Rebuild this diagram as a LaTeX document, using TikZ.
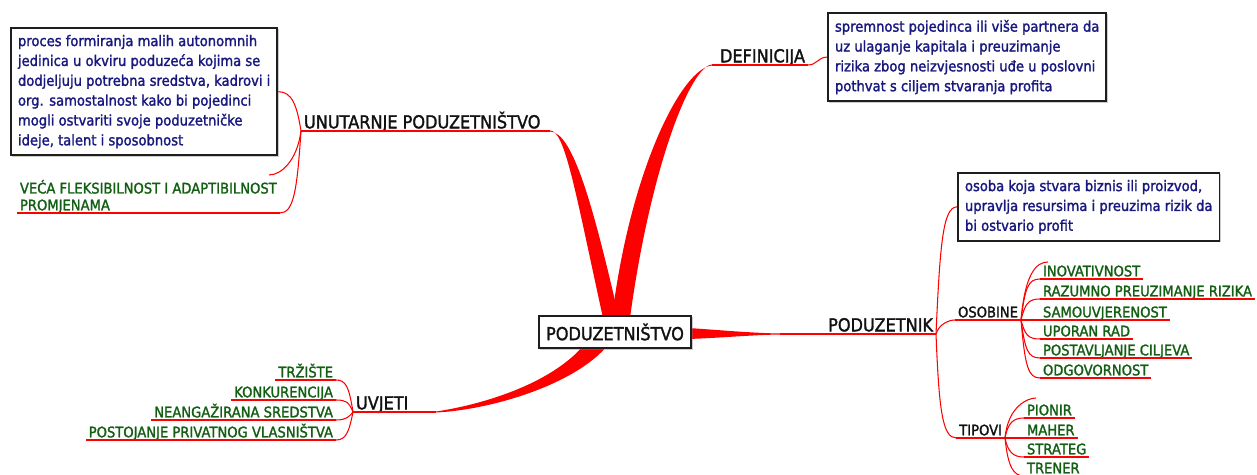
\documentclass[tikz,border=0pt]{standalone}
\usepackage{fontspec}
\setmainfont{DejaVu Sans}[FakeStretch=0.9, FakeBold=1.6]
\usepackage{xcolor}
\usepackage{tikz}
\usetikzlibrary{shadows}
\definecolor{Branch}{HTML}{FF0000}
\definecolor{Ink}{HTML}{111111}
\definecolor{Frame}{HTML}{1E1E1E}
\definecolor{NoteBlue}{HTML}{18187F}
\definecolor{LeafGreen}{HTML}{125E12}
\tikzset{
  branch/.style={fill=Branch, draw=none},
  twig/.style={draw=Branch, line width=0.6pt},
  uline/.style={draw=Branch, line width=0.6pt},
  topic/.style={text=Ink, font=\fontsize{10.2}{12}\selectfont, inner xsep=1.5pt, inner ysep=0pt, text depth=1.3pt},
  leaf/.style={text=LeafGreen, font=\fontsize{8.3}{9.6}\selectfont, inner xsep=1.5pt, inner ysep=0pt, text depth=1.3pt, align=left},
  subtopic/.style={leaf, text=Ink},
  note/.style={draw=Frame, line width=1.1pt, fill=white, text=NoteBlue, font=\fontsize{8.3}{11.3}\selectfont, align=left, inner xsep=4pt, inner ysep=4pt, drop shadow={shadow xshift=0.8pt, shadow yshift=-0.8pt, opacity=0.4}},
  hub/.style={draw=Frame, line width=1.2pt, fill=white, text=Ink, font=\fontsize{10.2}{12}\selectfont, minimum width=87pt, minimum height=18.7pt, inner xsep=4pt, drop shadow={shadow xshift=0.9pt, shadow yshift=-0.9pt, opacity=0.4}},
}

\begin{document}
\begin{tikzpicture}[x=0.02cm, y=-0.02cm]
  \useasboundingbox (0,0) rectangle (1257,475);

  % Thick arms out of the centre
  \fill[branch] (550,130.5) .. controls (565,130.5) and (575,190) .. (603,318)
    -- (619,318) .. controls (592,200) and (572,132) .. (550,131.5) -- cycle;
  \fill[branch] (712,64.5) .. controls (690,66) and (650,170) .. (630,318)
    -- (612,318) .. controls (630,170) and (682,68) .. (712,65.5) -- cycle;
  \fill[branch] (436,411.5) .. controls (480,405) and (550,385) .. (584,345)
    -- (608,345) .. controls (575,385) and (490,410) .. (436,412.5) -- cycle;
  \fill[branch] (688,328) .. controls (720,330) and (750,333) .. (780,333.5)
    -- (780,334.5) .. controls (750,335) and (720,338) .. (688,339) -- cycle;

  % Centre
  \node[hub] (core) at (615,332) {PODUZETNIŠTVO};

  % Unutarnje poduzetnistvo
  \node[topic, anchor=south west] (unut) at (301,131) {UNUTARNJE PODUZETNIŠTVO};
  \coordinate (unutTail) at (550,131);
  \draw[uline] (unut.south west) -- (unutTail);
  \node[note, anchor=north west] (unutNote) at (10,27) {proces formiranja malih autonomnih\\
    jedinica u okviru poduzeća kojima se\\
    dodjeljuju potrebna sredstva, kadrovi i\\
    org. samostalnost kako bi pojedinci\\
    mogli ostvariti svoje poduzetničke\\
    ideje, talent i sposobnost};
  \node[leaf, anchor=south west] (veca) at (17,213) {VEĆA FLEKSIBILNOST I ADAPTIBILNOST\\PROMJENAMA};
  \coordinate (vecaStub) at (269,175);
  \draw[uline] (veca.south west) -- (veca.south east);
  \draw[twig] (unut.south west) .. controls +(-4,-25) and +(14,0) .. (unutNote.east);
  \draw[twig] (unut.south west) .. controls +(-4,30) and +(12,0) .. (vecaStub);
  \draw[twig] (unut.south west) .. controls +(-4,60) and +(14,0) .. (veca.south east);

  % Definicija
  \node[topic, anchor=south east] (defin) at (808,65) {DEFINICIJA};
  \coordinate (definTail) at (712,65);
  \draw[uline] (definTail) -- (defin.south east);
  \node[note, anchor=north west] (definNote) at (827,12) {spremnost pojedinca ili više partnera da\\
    uz ulaganje kapitala i preuzimanje\\
    rizika zbog neizvjesnosti uđe u poslovni\\
    pothvat s ciljem stvaranja profita};
  \draw[twig] (defin.south east) .. controls +(9,0) and +(-9,0) .. (definNote.west);

  % Uvjeti
  \node[topic, anchor=south west] (uvjeti) at (353,412) {UVJETI};
  \coordinate (uvjetiTail) at (436,412);
  \draw[uline] (uvjeti.south west) -- (uvjetiTail);
  \node[leaf, anchor=south east] (trziste) at (336,380) {TRŽIŠTE};
  \node[leaf, anchor=south east] (konkur) at (336,400) {KONKURENCIJA};
  \node[leaf, anchor=south east] (sredstva) at (336,420) {NEANGAŽIRANA SREDSTVA};
  \node[leaf, anchor=south east] (vlasnistvo) at (336,440) {POSTOJANJE PRIVATNOG VLASNIŠTVA};
  \draw[uline] (trziste.south west) -- (trziste.south east);
  \draw[uline] (konkur.south west) -- (konkur.south east);
  \draw[uline] (sredstva.south west) -- (sredstva.south east);
  \draw[uline] (vlasnistvo.south west) -- (vlasnistvo.south east);
  \draw[twig] (uvjeti.south west) .. controls +(-4,-25) and +(10,0) .. (trziste.south east);
  \draw[twig] (uvjeti.south west) .. controls +(-4,-10) and +(10,0) .. (konkur.south east);
  \draw[twig] (uvjeti.south west) .. controls +(-4,5) and +(10,0) .. (sredstva.south east);
  \draw[twig] (uvjeti.south west) .. controls +(-4,20) and +(10,0) .. (vlasnistvo.south east);

  % Poduzetnik
  \coordinate (podzTail) at (780,334);
  \node[topic, anchor=south east] (podz) at (936,334) {PODUZETNIK};
  \draw[uline] (podzTail) -- (podz.south east);
  \node[note, anchor=north west] (podzNote) at (957,172) {osoba koja stvara biznis ili proizvod,\\
    upravlja resursima i preuzima rizik da\\
    bi ostvario profit};
  \draw[twig] (podz.south east) .. controls +(4,-90) and +(-14,0) .. (podzNote.west);

  \node[subtopic, anchor=south east] (osobine) at (1021,320) {OSOBINE};
  \draw[uline] (osobine.south west) -- (osobine.south east);
  \draw[twig] (podz.south east) .. controls +(3,-10) and +(-6,0) .. (osobine.south west);

  \node[subtopic, anchor=south east] (tipovi) at (1005,438) {TIPOVI};
  \draw[uline] (tipovi.south west) -- (tipovi.south east);
  \draw[twig] (podz.south east) .. controls +(3,75) and +(-14,0) .. (tipovi.south west);

  % Osobine
  \coordinate (osobStub) at (1048,262);
  \node[leaf, anchor=south west] (inov) at (1040,279) {INOVATIVNOST};
  \node[leaf, anchor=south west] (razum) at (1040,299) {RAZUMNO PREUZIMANJE RIZIKA};
  \node[leaf, anchor=south west] (samo) at (1040,320) {SAMOUVJERENOST};
  \node[leaf, anchor=south west] (uporan) at (1040,339) {UPORAN RAD};
  \node[leaf, anchor=south west] (ciljevi) at (1040,358) {POSTAVLJANJE CILJEVA};
  \node[leaf, anchor=south west] (odgov) at (1040,378) {ODGOVORNOST};
  \draw[uline] (inov.south west) -- (inov.south east);
  \draw[uline] (razum.south west) -- (razum.south east);
  \draw[uline] (samo.south west) -- (samo.south east);
  \draw[uline] (uporan.south west) -- (uporan.south east);
  \draw[uline] (ciljevi.south west) -- (ciljevi.south east);
  \draw[uline] (odgov.south west) -- (odgov.south east);
  \draw[twig] (osobine.south east) .. controls +(4,-46) and +(-12,0) .. (osobStub);
  \draw[twig] (osobine.south east) .. controls +(4,-32) and +(-12,0) .. (inov.south west);
  \draw[twig] (osobine.south east) .. controls +(4,-16) and +(-12,0) .. (razum.south west);
  \draw[twig] (osobine.south east) -- (samo.south west);
  \draw[twig] (osobine.south east) .. controls +(4,15) and +(-12,0) .. (uporan.south west);
  \draw[twig] (osobine.south east) .. controls +(4,30) and +(-12,0) .. (ciljevi.south west);
  \draw[twig] (osobine.south east) .. controls +(4,46) and +(-12,0) .. (odgov.south west);

  % Tipovi
  \coordinate (tipStub) at (1036,398);
  \node[leaf, anchor=south west] (pionir) at (1024,418) {PIONIR};
  \node[leaf, anchor=south west] (maher) at (1024,438) {MAHER};
  \node[leaf, anchor=south west] (strateg) at (1024,457) {STRATEG};
  \node[leaf, anchor=south west] (trener) at (1024,476) {TRENER};
  \draw[uline] (pionir.south west) -- (pionir.south east);
  \draw[uline] (maher.south west) -- (maher.south east);
  \draw[uline] (strateg.south west) -- (strateg.south east);
  \draw[uline] (trener.south west) -- (trener.south east);
  \draw[twig] (tipovi.south east) .. controls +(3,-32) and +(-8,0) .. (tipStub);
  \draw[twig] (tipovi.south east) .. controls +(3,-16) and +(-10,0) .. (pionir.south west);
  \draw[twig] (tipovi.south east) -- (maher.south west);
  \draw[twig] (tipovi.south east) .. controls +(3,15) and +(-10,0) .. (strateg.south west);
  \draw[twig] (tipovi.south east) .. controls +(3,30) and +(-10,0) .. (trener.south west);
\end{tikzpicture}
\end{document}
